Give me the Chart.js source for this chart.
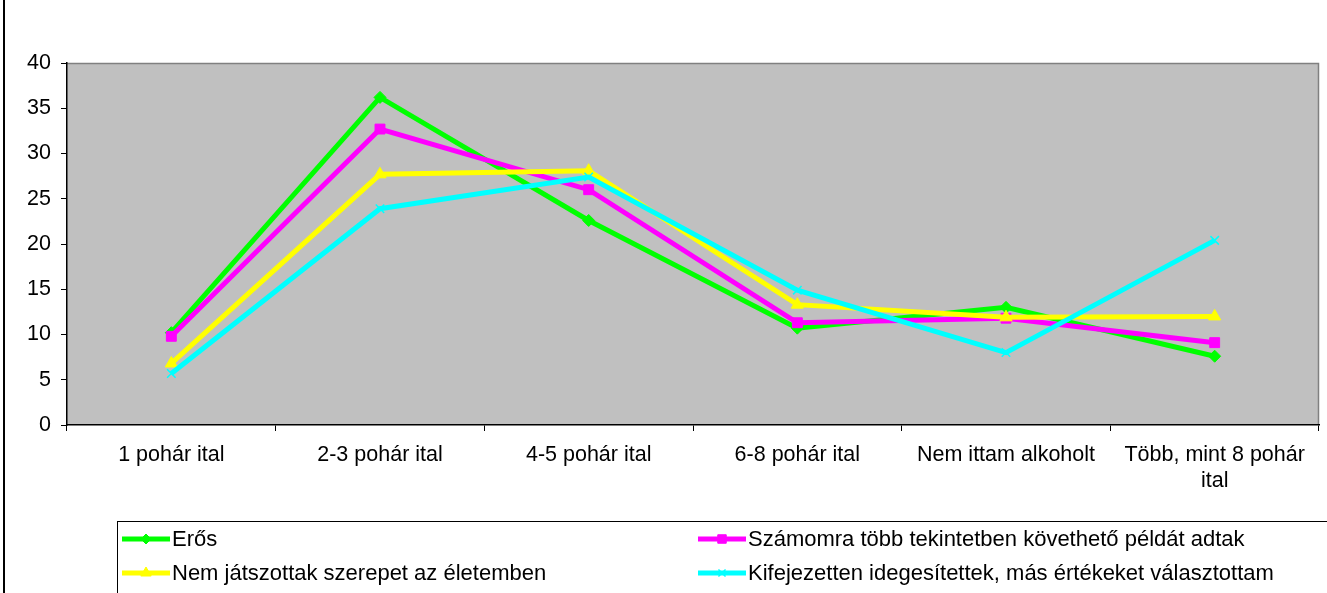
<!DOCTYPE html>
<html>
<head>
<meta charset="utf-8">
<script src="https://cdn.jsdelivr.net/npm/chart.js@4.4.1/dist/chart.umd.min.js"></script>
<style>
  html, body { margin: 0; padding: 0; background: #ffffff; }
  #wrap { position: relative; width: 1327px; height: 593px; }
</style>
</head>
<body>
<div id="wrap"><canvas id="c" width="1327" height="593"></canvas></div>
<script>
const categories = ["1 pohár ital", "2-3 pohár ital", "4-5 pohár ital", "6-8 pohár ital", "Nem ittam alkoholt", ["Több, mint 8 pohár", "ital"]];
const seriesNames = ["Erős", "Számomra több tekintetben követhető példát adtak", "Nem játszottak szerepet az életemben", "Kifejezetten idegesítettek, más értékeket választottam"];
const erosValues = [10.2, 36.2, 22.6, 10.7, 13.0, 7.6];
const peldaValues = [9.8, 32.7, 26.0, 11.3, 11.8, 9.1];
const nemSzerepValues = [6.8, 27.7, 28.1, 13.3, 11.9, 12.0];
const idegesValues = [5.7, 23.9, 27.4, 14.9, 8.0, 20.4];
const yTicks = [0, 5, 10, 15, 20, 25, 30, 35, 40];

const colors = ["#00FF00", "#FF00FF", "#FFFF00", "#00FFFF"];
const styles = ["rectRot", "rect", "triangle", "crossRot"];
const radii = [6, 7, 7, 6];
const allValues = [erosValues, peldaValues, nemSzerepValues, idegesValues];
const FONT = "'Liberation Sans', Arial, sans-serif";

const datasets = allValues.map((vals, i) => ({
  label: seriesNames[i],
  data: vals,
  borderColor: colors[i],
  backgroundColor: colors[i],
  borderWidth: 5,
  pointStyle: styles[i],
  pointRadius: radii[i],
  pointBorderWidth: i === 3 ? 1.5 : 1,
  pointBorderColor: colors[i],
  pointBackgroundColor: colors[i],
  tension: 0,
  order: 4 - i
}));

const framePlugin = {
  id: 'frame',
  beforeDraw(chart) {
    const ctx = chart.ctx, a = chart.chartArea;
    ctx.save();
    ctx.fillStyle = '#ffffff';
    ctx.fillRect(0, 0, chart.width, chart.height);
    ctx.fillStyle = '#C0C0C0';
    ctx.fillRect(a.left, a.top, a.right - a.left, a.bottom - a.top);
    ctx.strokeStyle = '#808080';
    ctx.lineWidth = 1.5;
    ctx.beginPath();
    ctx.moveTo(a.left, a.top + 0.5);
    ctx.lineTo(a.right - 0.5, a.top + 0.5);
    ctx.lineTo(a.right - 0.5, a.bottom);
    ctx.stroke();
    ctx.strokeStyle = '#000000';
    ctx.lineWidth = 2;
    ctx.beginPath();
    ctx.moveTo(4, 0);
    ctx.lineTo(4, chart.height);
    ctx.stroke();
    ctx.restore();
  },
  afterDraw(chart) {
    const ctx = chart.ctx;
    ctx.save();
    ctx.strokeStyle = '#000000';
    ctx.lineWidth = 1;
    ctx.strokeRect(117.5, 521.5, 1220, 100);
    const pos = [[122, 539, 48], [698, 539, 48], [122, 573, 48], [698, 573, 48]];
    chart.data.datasets.forEach((ds, i) => {
      const [x, y, w] = pos[i];
      ctx.strokeStyle = ds.borderColor;
      ctx.lineWidth = 5;
      ctx.beginPath();
      ctx.moveTo(x, y);
      ctx.lineTo(x + w, y);
      ctx.stroke();
      ctx.fillStyle = ds.borderColor;
      ctx.strokeStyle = ds.borderColor;
      ctx.lineWidth = ds.pointBorderWidth;
      Chart.helpers.drawPoint(ctx, {
        pointStyle: ds.pointStyle,
        radius: ds.pointRadius - 1,
        rotation: 0,
        borderWidth: ds.pointBorderWidth
      }, x + w / 2, y);
      ctx.fillStyle = '#000000';
      ctx.font = '22px ' + FONT;
      ctx.textAlign = 'left';
      ctx.textBaseline = 'middle';
      ctx.fillText(ds.label, x + w + 2, y + 1);
    });
    ctx.restore();
  }
};

new Chart(document.getElementById('c'), {
  type: 'line',
  data: { labels: categories, datasets: datasets },
  options: {
    responsive: false,
    animation: false,
    layout: { padding: { top: 63, right: 5, left: 0, bottom: 0 } },
    plugins: { legend: { display: false }, tooltip: { enabled: false }, title: { display: false } },
    scales: {
      x: {
        offset: true,
        grid: { offset: true, drawOnChartArea: false, drawTicks: true, tickLength: 6, color: '#000000', lineWidth: 1 },
        border: { color: '#000000', width: 1.5 },
        ticks: { color: '#000000', font: { family: FONT, size: 21.5, lineHeight: 1.22 }, padding: 11, maxRotation: 0, autoSkip: false },
        afterFit(scale) { scale.height = 168; }
      },
      y: {
        min: 0, max: 40,
        afterBuildTicks(scale) { scale.ticks = yTicks.map(v => ({ value: v })); },
        grid: { drawOnChartArea: false, drawTicks: true, tickLength: 6, color: '#000000', lineWidth: 1 },
        border: { color: '#000000', width: 1.5 },
        ticks: { color: '#000000', font: { family: FONT, size: 21.5 }, padding: 10 },
        afterFit(scale) { scale.width = 67; }
      }
    }
  },
  plugins: [framePlugin]
});
</script>
</body>
</html>
